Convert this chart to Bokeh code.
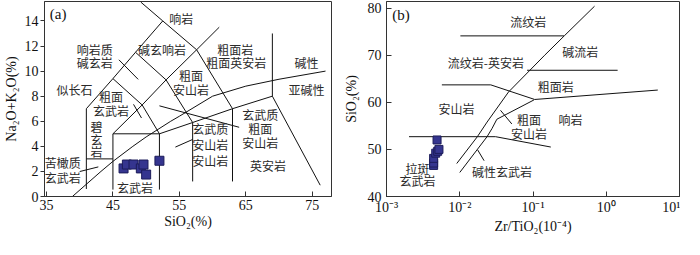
from bokeh.plotting import figure
from bokeh.layouts import row
from bokeh.models import FixedTicker, Range1d
from bokeh.core.properties import value
from bokeh.embed import file_html
from bokeh.resources import INLINE

# ---------------- data ----------------
sample_sio2 = [46.6, 47.1, 48.1, 49.2, 49.6, 50.0, 52.0]
sample_alkali = [2.24, 2.55, 2.55, 2.24, 2.55, 1.75, 2.85]
sample_zr_ti = [0.0044, 0.0044, 0.0044, 0.0047, 0.0050, 0.0052, 0.0049]

tas_x_ticks = [35, 45, 55, 65, 75]
tas_y_ticks = [0, 2, 4, 6, 8, 10, 12, 14]
wf_x_ticks = [0.001, 0.01, 0.1, 1, 10]
wf_x_tick_labels = ["10⁻³", "10⁻²", "10⁻¹", "10⁰", "10¹"]
wf_y_ticks = [40, 50, 60, 70, 80]

# TAS field boundaries (SiO2, Na2O+K2O)
tas_boundaries = [
    [(41, 0.6), (41, 7)],
    [(41, 3), (45, 3)],
    [(45, 0.55), (45, 5), (52, 5), (52, 0.55)],
    [(41, 7), (45, 9.4), (48.4, 11.5), (52.5, 14), (49.2, 15.5)],
    [(45, 9.4), (49.4, 7.3), (52, 5)],
    [(45, 5), (49.4, 7.3), (53, 9.3), (57.6, 11.7), (61, 13.5)],
    [(48.4, 11.5), (53, 9.3), (57, 5.9)],
    [(52.5, 14), (57.6, 11.7), (63, 7)],
    [(52, 5), (57, 5.9), (63, 7), (69, 8), (76.2, 0.9)],
    [(57, 1.2), (57, 5.9)],
    [(63, 1.2), (63, 7)],
    [(69, 8), (69, 13)],
]
# Irvine & Baragar alkaline / subalkaline divide
ib_sio2 = [38.9, 43.2, 45, 48, 50, 53.7, 55, 60, 65, 70, 77.0]
ib_alkali = [0, 2, 2.8, 4, 4.75, 6, 6.4, 8, 8.8, 9.35, 10]
tas_leaders = [
    [(45.9, 10.9), (48.8, 9.34)],
    [(48.1, 7.35), (49.3, 6.26)],
    [(40.0, 1.99), (42.8, 2.36)],
    [(54.4, 3.94), (57.0, 4.55)],
    [(52.0, 7.23), (64.0, 5.52)],
]
tas_label_text = ["响岩", "响岩质", "碱玄岩", "碱玄响岩", "粗面岩", "粗面英安岩", "碱性", "亚碱性",
                  "粗面", "安山岩", "似长石", "粗面", "玄武岩", "玄武质", "粗面", "安山岩",
                  "玄武质", "安山岩", "安山岩", "英安岩", "碧", "玄", "岩", "苦橄质", "玄武岩", "玄武岩"]
tas_label_x = [55.29, 42.25, 42.25, 52.39, 63.41, 63.55, 74.13, 74.13,
               56.74, 56.74, 39.2, 44.71, 44.71, 67.17, 67.17, 67.17,
               59.64, 59.64, 59.64, 68.33, 42.54, 42.54, 42.54, 37.46, 37.46, 48.33]
tas_label_y = [14.16, 11.75, 10.66, 11.75, 11.75, 10.66, 10.66, 8.54,
               9.64, 8.54, 8.54, 7.96, 6.86, 6.5, 5.4, 4.31,
               5.4, 4.16, 2.85, 2.48, 5.55, 4.53, 3.58, 2.7, 1.53, 0.73]

# Winchester & Floyd boundaries (Zr/TiO2, SiO2)
wf_boundaries = [
    [(0.0102, 74.1), (0.265, 74.1)],
    [(0.083, 66.8), (1.43, 66.8)],
    [(0.0057, 63.7), (0.0265, 63.7), (0.1055, 60.6), (5.05, 62.6)],
    [(0.0091, 47.0), (0.0174, 52.7), (0.0236, 55.8), (0.0464, 62.2), (0.1445, 70.0), (0.267, 74.1), (0.692, 80.4)],
    [(0.010, 45.1), (0.0236, 52.7), (0.0275, 54.4), (0.0321, 56.4), (0.103, 60.5)],
    [(0.00203, 52.7), (0.0308, 52.7), (0.175, 50.5)],
]
wf_leaders = [
    [(0.036, 58.3), (0.0514, 55.4)],
    [(0.01754, 49.9), (0.0215, 47.6)],
]
wf_label_text = ["流纹岩", "碱流岩", "流纹岩-英安岩", "粗面岩", "安山岩", "粗面", "安山岩", "响岩",
                 "碱性玄武岩", "拉斑", "玄武岩"]
wf_label_x = [0.0858, 0.44, 0.0227, 0.2048, 0.00903, 0.0885, 0.0885, 0.3245,
              0.0378, 0.00265, 0.00265]
wf_label_y = [77.07, 70.7, 68.4, 63.4, 58.7, 56.25, 53.4, 56.4,
              45.3, 46.0, 43.4]

SERIF = "Liberation Serif"
CJK = "Noto Sans CJK SC"
LINE = "#111111"
TXT = "#2a2a2a"


def style(p):
    p.xgrid.visible = False
    p.ygrid.visible = False
    p.outline_line_color = "#333333"
    p.outline_line_width = 1
    for ax in (p.xaxis[0], p.yaxis[0]):
        ax.axis_line_color = "#333333"
        ax.major_tick_line_color = "#333333"
        ax.minor_tick_line_color = None
        ax.major_label_text_font = SERIF
        ax.major_label_text_font_size = "14px"
        ax.major_label_text_color = "#111111"
        ax.axis_label_text_font = SERIF
        ax.axis_label_text_font_size = "14px"
        ax.axis_label_text_font_style = "normal"
        ax.axis_label_text_color = "#111111"
    p.xaxis.major_tick_in = 5
    p.xaxis.major_tick_out = 0
    p.xaxis.major_label_standoff = 3
    p.xaxis.axis_label_standoff = 1


def draw_lines(p, groups):
    xs = [[pt[0] for pt in g] for g in groups]
    ys = [[pt[1] for pt in g] for g in groups]
    p.multi_line(xs=xs, ys=ys, line_color=LINE, line_width=1)


H = 236

# ---------------- panel (a) ----------------
pa = figure(width=340, height=H, output_backend="svg", toolbar_location=None,
            x_range=Range1d(34.7, 77.9), y_range=Range1d(0, 15.55),
            min_border_left=37, min_border_right=9, min_border_top=1, min_border_bottom=38)
style(pa)
pa.xaxis.ticker = FixedTicker(ticks=tas_x_ticks)
pa.yaxis.ticker = FixedTicker(ticks=tas_y_ticks)
pa.yaxis.major_tick_in = 0
pa.yaxis.major_tick_out = 4
pa.yaxis.major_label_standoff = 2
pa.yaxis.axis_label_standoff = 3
pa.xaxis.axis_label = "SiO₂(%)"
pa.yaxis.axis_label = "Na₂O+K₂O(%)"

draw_lines(pa, tas_boundaries)
pa.line(ib_sio2, ib_alkali, line_color=LINE, line_width=1)
draw_lines(pa, tas_leaders)
pa.text(x=tas_label_x, y=tas_label_y, text=tas_label_text, text_font=value(CJK),
        text_font_size="12px", text_color=TXT, text_align="center", text_baseline="middle")
pa.text(x=[36.74], y=[14.53], text=["(a)"], text_font=value(SERIF), text_font_size="15px",
        text_color="#111111", text_align="center", text_baseline="middle")
pa.scatter(sample_sio2, sample_alkali, marker="square", size=9,
           fill_color="#35358f", line_color="#1c1c5a", line_width=1)

# ---------------- panel (b) ----------------
pb = figure(width=340, height=H, output_backend="svg", toolbar_location=None,
            x_axis_type="log", x_range=Range1d(0.001, 10), y_range=Range1d(40, 81.4),
            min_border_left=45, min_border_right=1, min_border_top=1, min_border_bottom=38)
style(pb)
pb.xaxis.ticker = FixedTicker(ticks=wf_x_ticks)
pb.xaxis.major_label_overrides = {t: lab for t, lab in zip(wf_x_ticks, wf_x_tick_labels)}
pb.yaxis.ticker = FixedTicker(ticks=wf_y_ticks)
pb.yaxis.major_tick_in = 5
pb.yaxis.major_tick_out = 0
pb.yaxis.major_label_standoff = 5
pb.yaxis.axis_label_standoff = 6
pb.xaxis.axis_label = "Zr/TiO₂(10⁻⁴)"
pb.yaxis.axis_label = "SiO₂(%)"

draw_lines(pb, wf_boundaries)
draw_lines(pb, wf_leaders)
pb.text(x=wf_label_x, y=wf_label_y, text=wf_label_text, text_font=value(CJK),
        text_font_size="12px", text_color=TXT, text_align="center", text_baseline="middle")
pb.text(x=[0.00158], y=[78.5], text=["(b)"], text_font=value(SERIF), text_font_size="15px",
        text_color="#111111", text_align="center", text_baseline="middle")
pb.scatter(sample_zr_ti, sample_sio2, marker="square", size=8,
           fill_color="#35358f", line_color="#1c1c5a", line_width=1)

layout = row(pa, pb)
open("out.html", "w").write(file_html(layout, INLINE))
